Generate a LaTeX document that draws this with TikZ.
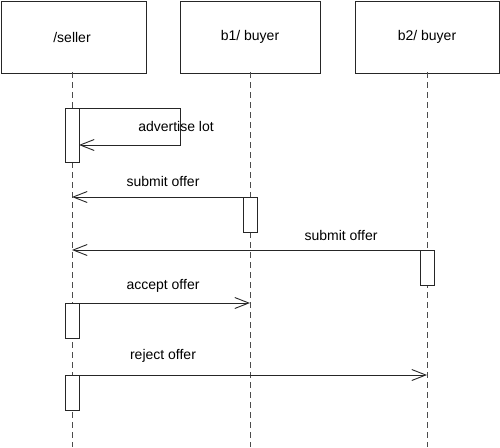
\documentclass[tikz,border=0pt]{standalone}
\usepackage{fontspec}
\setmainfont{Liberation Sans}
\usetikzlibrary{arrows.meta}
\begin{document}
\begin{tikzpicture}[x=1pt,y=-1pt,
  font=\fontsize{14}{16}\selectfont,
  objbox/.style={draw=black!85,line width=1pt,minimum width=#1,minimum height=72pt,inner sep=0pt,anchor=north west},
  lifeline/.style={draw=black!70,line width=1pt,dash pattern=on 6pt off 4pt},
  actbox/.style={draw=black!85,line width=0.9pt,fill=white},
  msg/.style={draw=black!85,line width=0.9pt,-{Straight Barb[length=14pt,width=11pt,line width=0.9pt]}},
  lbl/.style={inner sep=1pt}]
\useasboundingbox (0,0) rectangle (500,447);
% objects
\node[objbox=145pt] (seller) at (0.5,0.5) {};
\node at (72,37) {/seller};
\node[objbox=140pt] (b1) at (180,0.5) {};
\node at (250,37) {b1/ buyer};
\node[objbox=144pt] (b2) at (355,0.5) {};
\node at (427,37) {b2/ buyer};
% lifeline ends
\coordinate (sEnd) at (72,447);
\coordinate (b1End) at (250,447);
\coordinate (b2End) at (427,447);
\draw[lifeline] (72,72) -- (sEnd);
\draw[lifeline] (250,72) -- (b1End);
\draw[lifeline] (427,72) -- (b2End);
% activations
\draw[actbox] (65,108) rectangle (79,162);
\draw[actbox] (243,197) rectangle (257,232);
\draw[actbox] (420,250) rectangle (434,285);
\draw[actbox] (65,303) rectangle (79,338);
\draw[actbox] (65,375) rectangle (79,410);
% named points
\coordinate (a1) at (79,108);
\coordinate (a2) at (180,108);
\coordinate (a3) at (180,145);
\coordinate (a4) at (79,145);
\coordinate (m1s) at (243,197);
\coordinate (m1e) at (72,197);
\coordinate (m2s) at (434,250);
\coordinate (m2e) at (72,250);
\coordinate (m3s) at (79,303);
\coordinate (m3e) at (250,303);
\coordinate (m4s) at (79,375);
\coordinate (m4e) at (427,375);
% messages
\draw[msg] (a1) -- (a2) -- (a3) -- (a4);
\node[lbl] at (176,126) {advertise lot};
\draw[msg] (m1s) -- (m1e);
\node[lbl] at (163,181) {submit offer};
\draw[msg] (m2s) -- (m2e);
\node[lbl] at (341,235) {submit offer};
\draw[msg] (m3s) -- (m3e);
\node[lbl] at (163,286) {accept offer};
\draw[msg] (m4s) -- (m4e);
\node[lbl] at (163,356) {reject offer};
\end{tikzpicture}
\end{document}
